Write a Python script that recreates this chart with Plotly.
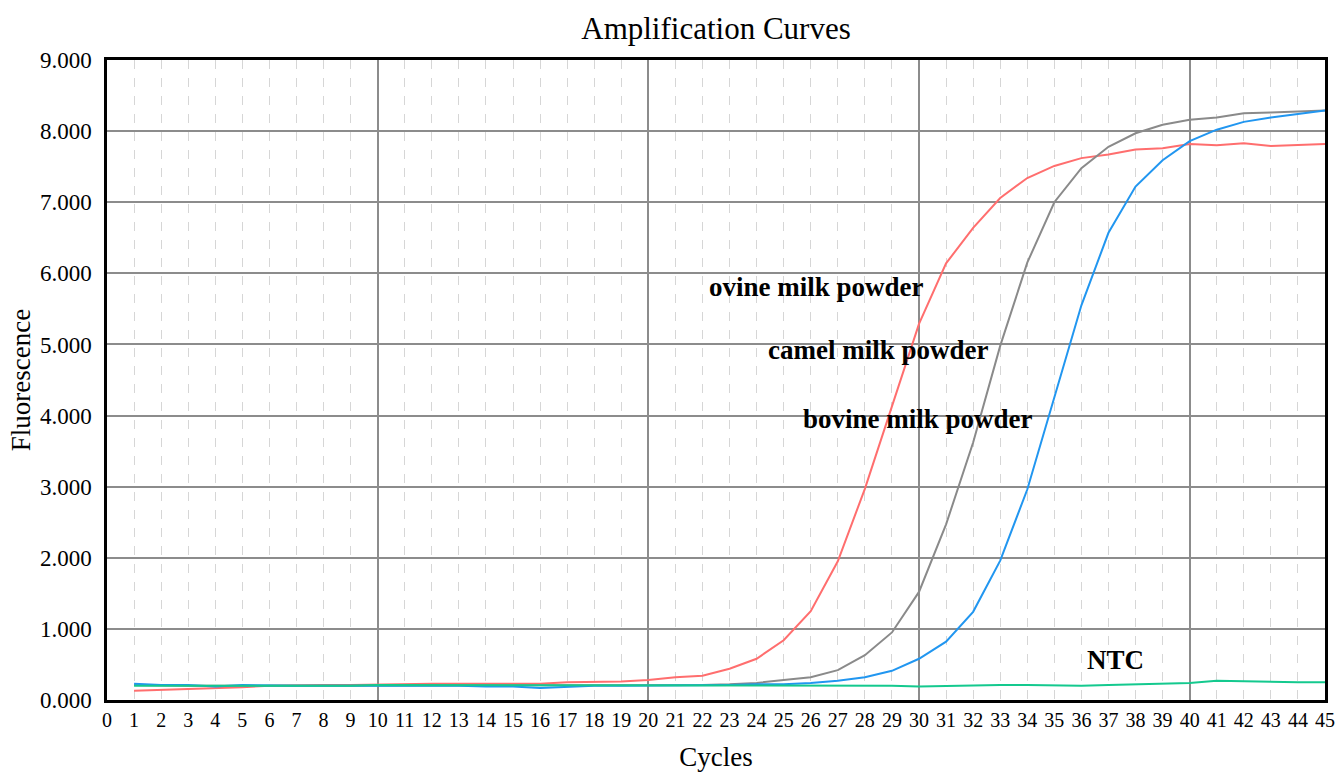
import plotly.graph_objects as go

cycles = list(range(1, 46))

ovine = [0.13, 0.14, 0.16, 0.16, 0.18, 0.20, 0.21, 0.21, 0.21, 0.22,
         0.22, 0.23, 0.23, 0.23, 0.23, 0.23, 0.25, 0.25, 0.26, 0.28,
         0.32, 0.34, 0.44, 0.58, 0.84, 1.25, 1.95, 2.97, 4.12, 5.29,
         6.14, 6.64, 7.06, 7.34, 7.51, 7.62, 7.67, 7.74, 7.76, 7.82,
         7.80, 7.83, 7.79, 7.81, 7.82]

camel = [0.21, 0.20, 0.20, 0.20, 0.20, 0.20, 0.20, 0.20, 0.20, 0.21,
         0.21, 0.21, 0.21, 0.21, 0.21, 0.21, 0.21, 0.21, 0.21, 0.21,
         0.21, 0.21, 0.22, 0.24, 0.28, 0.32, 0.42, 0.63, 0.95, 1.52,
         2.47, 3.62, 4.98, 6.15, 7.00, 7.48, 7.78, 7.97, 8.09, 8.16,
         8.19, 8.25, 8.26, 8.27, 8.29]

bovine = [0.23, 0.21, 0.21, 0.19, 0.21, 0.20, 0.20, 0.20, 0.20, 0.21,
          0.20, 0.20, 0.20, 0.19, 0.19, 0.17, 0.19, 0.20, 0.20, 0.20,
          0.21, 0.21, 0.21, 0.22, 0.22, 0.24, 0.27, 0.32, 0.41, 0.58,
          0.82, 1.24, 1.96, 2.96, 4.25, 5.55, 6.57, 7.22, 7.59, 7.86,
          8.02, 8.13, 8.19, 8.24, 8.29]

ntc = [0.20, 0.20, 0.20, 0.19, 0.20, 0.20, 0.20, 0.20, 0.20, 0.21,
       0.21, 0.21, 0.21, 0.20, 0.20, 0.20, 0.20, 0.20, 0.20, 0.20,
       0.21, 0.20, 0.20, 0.21, 0.21, 0.20, 0.20, 0.20, 0.20, 0.19,
       0.20, 0.20, 0.21, 0.21, 0.20, 0.20, 0.21, 0.22, 0.24, 0.24,
       0.27, 0.26, 0.25, 0.25, 0.25]

x_ticks = list(range(0, 46))
y_ticks = [0, 1, 2, 3, 4, 5, 6, 7, 8, 9]
y_tick_labels = ["0.000", "1.000", "2.000", "3.000", "4.000",
                 "5.000", "6.000", "7.000", "8.000", "9.000"]
major_x = [10, 20, 30, 40]

labels = ["ovine milk powder", "camel milk powder", "bovine milk powder", "NTC"]
label_x = [26.23, 28.48, 29.96, 37.27]
label_y = [5.81, 4.92, 3.95, 0.56]

series = [("ovine", ovine, "#FF6E6E"),
          ("camel", camel, "#8A8A8A"),
          ("bovine", bovine, "#2196F0"),
          ("NTC", ntc, "#14C98E")]

SERIF = "Liberation Serif"

fig = go.Figure()
for name, vals, col in series:
    fig.add_trace(go.Scatter(x=cycles, y=vals, mode="lines", name=name,
                             line=dict(color=col, width=2)))

# invisible helper trace for the major vertical grid axis
fig.add_trace(go.Scatter(x=[0, 45], y=[0, 0], mode="lines", xaxis="x2",
                         line=dict(width=0), hoverinfo="skip", showlegend=False))

for t, xx, yy in zip(labels, label_x, label_y):
    fig.add_annotation(x=xx, y=yy, text="<b>%s</b>" % t, showarrow=False,
                       font=dict(family=SERIF, size=27, color="black"),
                       xanchor="center", yanchor="middle")

minor_vals = [v for v in x_ticks if v % 10 != 0]

fig.update_layout(
    width=1336, height=772,
    paper_bgcolor="white", plot_bgcolor="white",
    margin=dict(l=107, r=11, t=60, b=72),
    showlegend=False,
    title=dict(text="Amplification Curves", x=0.5, xref="paper", xanchor="center",
               y=0.964, yanchor="middle",
               font=dict(family=SERIF, size=31, color="black")),
    xaxis=dict(range=[0, 45], tickmode="array", tickvals=x_ticks,
               ticktext=[str(v) for v in x_ticks], automargin=False,
               showgrid=False, zeroline=False,
               showline=True, mirror=True, linecolor="black", linewidth=2.5,
               ticks="", tickfont=dict(family=SERIF, size=20, color="black"),
               title=dict(text="Cycles", standoff=19,
                          font=dict(family=SERIF, size=27, color="black")),
               minor=dict(tickmode="array", tickvals=minor_vals, showgrid=True,
                          gridcolor="#D6D6D6", griddash="dash", gridwidth=1,
                          ticks="")),
    xaxis2=dict(range=[0, 45], overlaying="x", tickmode="array",
                tickvals=major_x, showticklabels=False, showgrid=True,
                gridcolor="#8C8C8C", gridwidth=1.5, zeroline=False,
                showline=False, ticks="", automargin=False),
    yaxis=dict(range=[0, 9], tickmode="array", tickvals=y_ticks,
               ticktext=y_tick_labels, showgrid=True, gridcolor="#8C8C8C",
               gridwidth=1.5, zeroline=False, automargin=False,
               showline=True, mirror=True, linecolor="black", linewidth=2.5,
               ticks="", ticklabelstandoff=8,
               tickfont=dict(family=SERIF, size=23, color="black"),
               title=dict(text="Fluorescence", standoff=2,
                          font=dict(family=SERIF, size=27, color="black"))),
)

fig.write_html("out.html")
